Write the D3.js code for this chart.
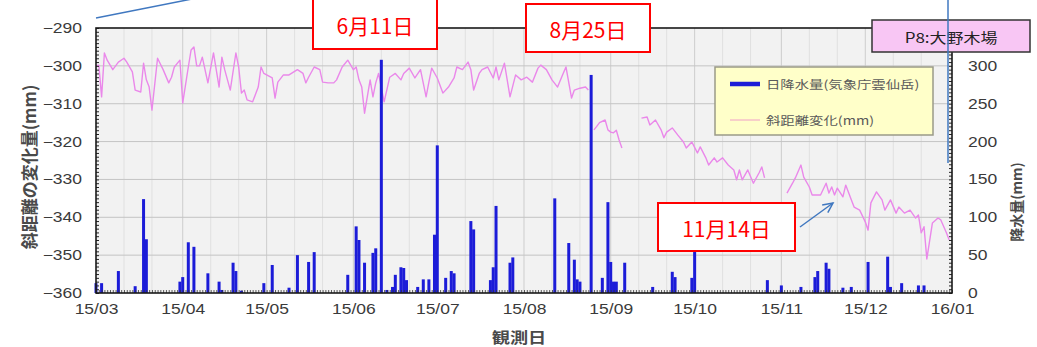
<!DOCTYPE html>
<html>
<head>
<meta charset="utf-8">
<script src="https://cdn.jsdelivr.net/npm/d3@7"></script>
<style>
  html, body { margin: 0; padding: 0; background: #fff; }
  svg { display: block; }
</style>
</head>
<body>
<svg id="chart" width="1037" height="347"></svg>
<script>
// ---- data -------------------------------------------------------------
const YEAR = 2015;

// slope-distance change (mm); null marks a break in the record
const dispDates = [
  "03-01","03-02","03-03","03-04","03-05","03-07","03-08","03-09","03-11","03-12",
  "03-14","03-15","03-17","03-18","03-19","03-20","03-21","03-23","03-25","03-27",
  "03-28","03-29","03-31","04-01","04-03","04-04","04-05","04-06","04-07","04-08",
  "04-10","04-12","04-14","04-15","04-16","04-18","04-20","04-21","04-22","04-23",
  "04-24","04-26","04-28","04-29","04-30","05-03","05-04","05-05","05-07","05-09",
  "05-12","05-14","05-15","05-16","05-18","05-20","05-21","05-23","05-25","05-26",
  "05-28","05-30","06-01","06-02","06-03","06-04","06-05","06-07","06-08","06-09",
  "06-10","06-12","06-14","06-16","06-18","06-19","06-21","06-23","06-25","06-27",
  "06-28","06-29","07-01","07-03","07-05","07-07","07-08","07-10","07-12","07-13",
  "07-14","07-16","07-17","07-19","07-21","07-22","07-23","07-25","07-27","07-29",
  "07-31","08-02","08-04","08-06","08-07","08-09","08-11","08-13","08-15","08-16",
  "08-18","08-19","08-21","08-23","08-24","08-25","08-26","08-27","08-28","08-30",
  "08-31","09-01","09-02","09-03","09-04","09-05","09-08","09-12","09-14","09-15",
  "09-17","09-19","09-20","09-21","09-23","09-25","09-27","09-28","09-30","10-02",
  "10-03","10-05","10-06","10-08","10-09","10-11","10-13","10-15","10-16","10-17",
  "10-18","10-20","10-22","10-24","10-25","10-26","10-30","11-03","11-05","11-06",
  "11-08","11-09","11-11","11-12","11-15","11-17","11-18","11-19","11-20","11-21",
  "11-23","11-24","11-26","11-27","11-29","12-01","12-02","12-03","12-05","12-07",
  "12-08","12-10","12-12","12-13","12-15","12-17","12-19","12-20","12-21","12-22",
  "12-23","12-25","12-27","12-28","12-30","12-31"
];
const dispValues = [
  -300.0,-299.8,-308.2,-296.6,-298.5,-301.0,-300.0,-299.0,-298.0,-299.0,
  -301.6,-306.4,-306.9,-299.3,-303.7,-305.6,-311.7,-298.0,-301.0,-304.5,
  -303.0,-300.3,-298.5,-309.8,-300.3,-295.8,-295.0,-300.0,-300.0,-297.7,
  -304.5,-296.6,-305.6,-297.7,-301.0,-306.4,-296.6,-300.3,-307.2,-306.4,
  -309.0,-309.5,-305.6,-300.3,-302.0,-303.2,-308.5,-304.3,-302.4,-302.4,
  -301.0,-302.0,-304.5,-303.0,-300.3,-301.0,-304.3,-304.5,-304.5,-303.7,
  -300.3,-298.5,-301.0,-300.3,-303.7,-305.6,-312.5,-303.7,-308.2,-304.5,
  -302.0,-309.5,-303.0,-302.0,-303.7,-302.0,-300.6,-303.2,-301.0,-308.2,
  -304.3,-300.6,-303.2,-307.2,-305.6,-303.2,-300.3,-301.0,-299.0,-301.0,
  -306.4,-302.0,-301.0,-300.3,-303.2,-300.3,-303.7,-299.3,-308.2,-302.4,
  -303.7,-303.0,-304.3,-300.6,-299.8,-301.0,-303.7,-305.6,-302.0,-300.3,
  -308.5,-306.4,-305.9,-305.6,-306.4,null,-316.9,-316.0,-315.0,-314.3,
  -316.9,-317.5,-317.7,-317.0,-319.6,-321.7,null,-313.8,-313.5,-315.6,
  -314.3,-316.9,-319.0,-317.5,-316.4,-318.3,-320.1,-321.7,-320.1,-323.0,
  -321.4,-324.3,-326.2,-324.3,-325.4,-324.3,-326.2,-327.5,-330.1,-327.5,
  -330.1,-327.5,-331.0,-328.3,-326.7,-329.6,null,-333.6,-331.0,-329.6,
  -326.2,-329.4,-332.0,-334.1,-334.1,-331.0,-333.6,-332.0,-334.1,-332.3,
  -334.6,-331.5,-335.4,-337.3,-338.1,-341.2,-343.4,-336.2,-333.3,-335.4,
  -338.1,-335.4,-338.9,-337.3,-338.9,-338.1,-340.2,-339.4,-344.1,-342.5,
  -351.0,-341.5,-340.2,-340.7,-344.1,-346.0
];

// daily precipitation (mm), JMA Unzendake
const rainDates = [
  "03-01","03-03","03-09","03-15","03-18","03-19","03-31","04-01","04-03","04-05",
  "04-10","04-14","04-15","04-19","04-20","04-22","04-30","05-03","05-09","05-12",
  "05-16","05-18","05-30","06-02","06-03","06-05","06-08","06-09","06-11","06-13",
  "06-15","06-16","06-18","06-19","06-20","06-24","06-26","06-28","06-30","07-01",
  "07-04","07-06","07-07","07-13","07-14","07-20","07-21","07-22","07-27","07-28",
  "08-12","08-17","08-19","08-20","08-21","08-25","08-29","08-31","09-01","09-02",
  "09-03","09-06","09-16","09-23","09-24","09-30","10-01","10-27","11-01","11-08",
  "11-13","11-14","11-17","11-18","11-23","11-26","12-02","12-09","12-10","12-14",
  "12-20","12-22"
];
const rainValues = [
  13,13,29,9,124,71,15,21,67,61,
  26,15,4,40,29,3,13,37,7,50,
  41,54,24,88,70,40,53,59,308,4,
  8,24,34,33,17,8,18,18,77,195,
  20,29,26,95,84,17,34,115,40,47,
  125,66,44,18,15,288,20,120,41,15,
  15,40,8,28,21,20,57,17,10,8,
  21,29,40,32,7,8,41,48,8,13,
  10,10
];

const leftTicks  = [-360,-350,-340,-330,-320,-310,-300,-290];
const rightTicks = [0,50,100,150,200,250,300];
const monthTicks = ["2015-03-01","2015-04-01","2015-05-01","2015-06-01","2015-07-01",
                    "2015-08-01","2015-09-01","2015-10-01","2015-11-01","2015-12-01","2016-01-01"];

const titleText   = "P8:大野木場";
const leftTitle   = "斜距離の変化量(mm)";
const rightTitle  = "降水量(mm)";
const xTitle      = "観測日";
const legendRain  = "日降水量(気象庁雲仙岳)";
const legendDisp  = "斜距離変化(mm)";
const callouts = [
  { text: "6月11日",  x: 313, y: -1,  w: 124, h: 50 },
  { text: "8月25日",  x: 526, y: 4,   w: 124, h: 48 },
  { text: "11月14日", x: 658, y: 203, w: 137, h: 48 }
];

// ---- layout -----------------------------------------------------------
const P = { left: 96, right: 952, top: 28, bottom: 293 };
const STRETCH = 1.25;              // wide-set lettering of the chart texts
const NUM_FONT = "'Liberation Sans', Arial, sans-serif";
const JP_FONT  = "'Noto Sans CJK JP', 'Noto Sans', sans-serif";

const parseFull = d3.timeParse("%Y-%m-%d");
const parseMD = s => parseFull(`${YEAR}-${s}`);

const disp = dispDates.map((d, i) => ({ date: parseMD(d), v: dispValues[i] }));
const rain = rainDates.map((d, i) => ({ date: parseMD(d), v: rainValues[i] }));
const months = monthTicks.map(parseFull);

const x  = d3.scaleTime().domain([months[0], months[months.length - 1]]).range([P.left, P.right]);
const yL = d3.scaleLinear().domain([-360, -290]).range([P.bottom, P.top]);
const yR = d3.scaleLinear().domain([0, 350]).range([P.bottom, P.top]);

const svg = d3.select("#chart");

// plot background
svg.append("rect")
  .attr("x", P.left).attr("y", P.top)
  .attr("width", P.right - P.left).attr("height", P.bottom - P.top)
  .attr("fill", "#f2f2f2");

// faint ten-day grid
const tenDays = d3.timeDay.range(months[0], months[months.length - 1])
  .filter(d => d.getDate() === 11 || d.getDate() === 21);
svg.append("g").selectAll("line").data(tenDays).join("line")
  .attr("x1", d => x(d)).attr("x2", d => x(d))
  .attr("y1", P.top).attr("y2", P.bottom)
  .attr("stroke", "#e0e0e0").attr("stroke-width", 1);

// month grid
svg.append("g").selectAll("line").data(months.slice(1, -1)).join("line")
  .attr("x1", d => x(d)).attr("x2", d => x(d))
  .attr("y1", P.top).attr("y2", P.bottom)
  .attr("stroke", "#cdcdcd").attr("stroke-width", 1);

// horizontal grid
svg.append("g").selectAll("line").data(leftTicks.slice(1, -1)).join("line")
  .attr("x1", P.left).attr("x2", P.right)
  .attr("y1", d => yL(d)).attr("y2", d => yL(d))
  .attr("stroke", "#c4c4c4").attr("stroke-width", 1);

// slope-distance line
const line = d3.line()
  .defined(d => d.v !== null)
  .x(d => x(d.date)).y(d => yL(d.v));
svg.append("path")
  .datum(disp)
  .attr("d", line)
  .attr("fill", "none")
  .attr("stroke", "#ea88ea")
  .attr("stroke-width", 1.4)
  .attr("stroke-linejoin", "round");

// precipitation bars
const barW = 3;
svg.append("g").selectAll("rect").data(rain).join("rect")
  .attr("x", d => x(d.date) - barW / 2)
  .attr("y", d => yR(d.v))
  .attr("width", barW)
  .attr("height", d => yR(0) - yR(d.v))
  .attr("fill", "#1c1cd8");

// ---- axes -------------------------------------------------------------
function styleLabels(g, anchorX) {
  g.selectAll("text")
    .attr("fill", "#3a3a3a")
    .style("font-family", NUM_FONT)
    .style("font-size", "14px");
  if (anchorX !== undefined) {
    g.selectAll("text").attr("x", anchorX / STRETCH).attr("transform", `scale(${STRETCH},1)`);
  } else {
    g.selectAll("text").attr("transform", `scale(${STRETCH},1)`);
  }
}

// left axis: labels
const gL = svg.append("g").attr("transform", `translate(${P.left},0)`)
  .call(d3.axisLeft(yL).tickValues(leftTicks).tickSize(0).tickPadding(14));
gL.select(".domain").remove();
styleLabels(gL, -14);

// left axis: inner minor ticks
svg.append("g").attr("transform", `translate(${P.left},0)`)
  .call(d3.axisRight(yL).tickValues(d3.range(-360, -289, 1)).tickSize(3).tickFormat(""))
  .call(g => g.select(".domain").remove())
  .call(g => g.selectAll("line").attr("stroke", "#222"));

// right axis: labels
const gR = svg.append("g").attr("transform", `translate(${P.right},0)`)
  .call(d3.axisRight(yR).tickValues(rightTicks).tickSize(0).tickPadding(16));
gR.select(".domain").remove();
styleLabels(gR, 16);

// right axis: inner minor ticks
svg.append("g").attr("transform", `translate(${P.right},0)`)
  .call(d3.axisLeft(yR).tickValues(d3.range(0, 351, 5)).tickSize(3).tickFormat(""))
  .call(g => g.select(".domain").remove())
  .call(g => g.selectAll("line").attr("stroke", "#222"));

// bottom axis: labels
const gB = svg.append("g").attr("transform", `translate(0,${P.bottom})`)
  .call(d3.axisBottom(x).tickValues(months).tickSize(0).tickPadding(11)
    .tickFormat(d3.timeFormat("%y/%m")));
gB.select(".domain").remove();
styleLabels(gB);

// bottom axis: daily ticks
svg.append("g").attr("transform", `translate(0,${P.bottom})`)
  .call(d3.axisTop(x).ticks(d3.timeDay.every(1)).tickSize(3).tickFormat(""))
  .call(g => g.select(".domain").remove())
  .call(g => g.selectAll("line").attr("stroke", "#333").attr("stroke-width", 0.8));

// plot frame
svg.append("rect")
  .attr("x", P.left).attr("y", P.top)
  .attr("width", P.right - P.left).attr("height", P.bottom - P.top)
  .attr("fill", "none").attr("stroke", "#1a1a1a").attr("stroke-width", 1.6);

// axis titles
svg.append("text")
  .attr("transform", "translate(28,167) rotate(-90)")
  .attr("text-anchor", "middle").attr("dominant-baseline", "central")
  .attr("fill", "#4a4a4a").style("font-family", JP_FONT)
  .style("font-size", "17px").style("font-weight", "bold")
  .text(leftTitle);

svg.append("text")
  .attr("transform", "translate(1016,202) rotate(-90)")
  .attr("text-anchor", "middle").attr("dominant-baseline", "central")
  .attr("fill", "#4a4a4a").style("font-family", JP_FONT)
  .style("font-size", "14px").style("font-weight", "bold")
  .text(rightTitle);

svg.append("text")
  .attr("transform", `translate(519,337) scale(${STRETCH * 0.97},1)`)
  .attr("text-anchor", "middle").attr("dominant-baseline", "central")
  .attr("fill", "#4a4a4a").style("font-family", JP_FONT)
  .style("font-size", "15px").style("font-weight", "bold")
  .text(xTitle);

// legend
const lg = svg.append("g");
lg.append("rect")
  .attr("x", 715).attr("y", 67).attr("width", 218).attr("height", 68)
  .attr("fill", "#ffffc9").attr("stroke", "#9a9a88").attr("stroke-width", 1.5);
lg.append("line")
  .attr("x1", 730).attr("x2", 760).attr("y1", 84).attr("y2", 84)
  .attr("stroke", "#1c1cd8").attr("stroke-width", 4.5);
lg.append("line")
  .attr("x1", 730).attr("x2", 760).attr("y1", 120).attr("y2", 120)
  .attr("stroke", "#f0a0c8").attr("stroke-width", 1);
[[legendRain, 84], [legendDisp, 120]].forEach(([t, yy]) => {
  lg.append("text")
    .attr("transform", `translate(766,${yy}) scale(${STRETCH},1)`)
    .attr("dominant-baseline", "central")
    .attr("fill", "#5a5a5a").style("font-family", JP_FONT).style("font-size", "11.5px")
    .text(t);
});

// station title box
svg.append("rect")
  .attr("x", 872).attr("y", 20).attr("width", 158).attr("height", 32)
  .attr("fill", "#f8c6f4").attr("stroke", "#333").attr("stroke-width", 1.5);
svg.append("text")
  .attr("transform", `translate(951,37) scale(${STRETCH * 0.97},1)`)
  .attr("text-anchor", "middle").attr("dominant-baseline", "central")
  .attr("fill", "#222").style("font-family", JP_FONT).style("font-size", "14px")
  .text(titleText);

// blue guide lines
const guide = "#4078c0";
svg.append("line").attr("x1", 96).attr("y1", 18).attr("x2", 192).attr("y2", -1)
  .attr("stroke", guide).attr("stroke-width", 1.5);
svg.append("line").attr("x1", 948).attr("y1", 0).attr("x2", 948).attr("y2", 163)
  .attr("stroke", guide).attr("stroke-width", 1.5);

// arrow towards the November record
const ax0 = 800, ay0 = 227, ax1 = 833, ay1 = 203;
const ang = Math.atan2(ay1 - ay0, ax1 - ax0);
const head = 11, spread = 0.45;
svg.append("line").attr("x1", ax0).attr("y1", ay0).attr("x2", ax1).attr("y2", ay1)
  .attr("stroke", guide).attr("stroke-width", 1.5);
svg.append("path")
  .attr("d", `M${ax1 - head * Math.cos(ang - spread)},${ay1 - head * Math.sin(ang - spread)}
              L${ax1},${ay1}
              L${ax1 - head * Math.cos(ang + spread)},${ay1 - head * Math.sin(ang + spread)}`)
  .attr("fill", "none").attr("stroke", guide).attr("stroke-width", 1.5);

// date call-outs
const cg = svg.append("g").selectAll("g").data(callouts).join("g");
cg.append("rect")
  .attr("x", d => d.x).attr("y", d => d.y).attr("width", d => d.w).attr("height", d => d.h)
  .attr("fill", "#fff").attr("stroke", "#ff0000").attr("stroke-width", 2);
cg.append("text")
  .attr("x", d => d.x + d.w / 2).attr("y", d => d.y + d.h / 2 + 1)
  .attr("text-anchor", "middle").attr("dominant-baseline", "central")
  .attr("fill", "#ff0000").style("font-family", JP_FONT).style("font-size", "21px")
  .text(d => d.text);
</script>
</body>
</html>
